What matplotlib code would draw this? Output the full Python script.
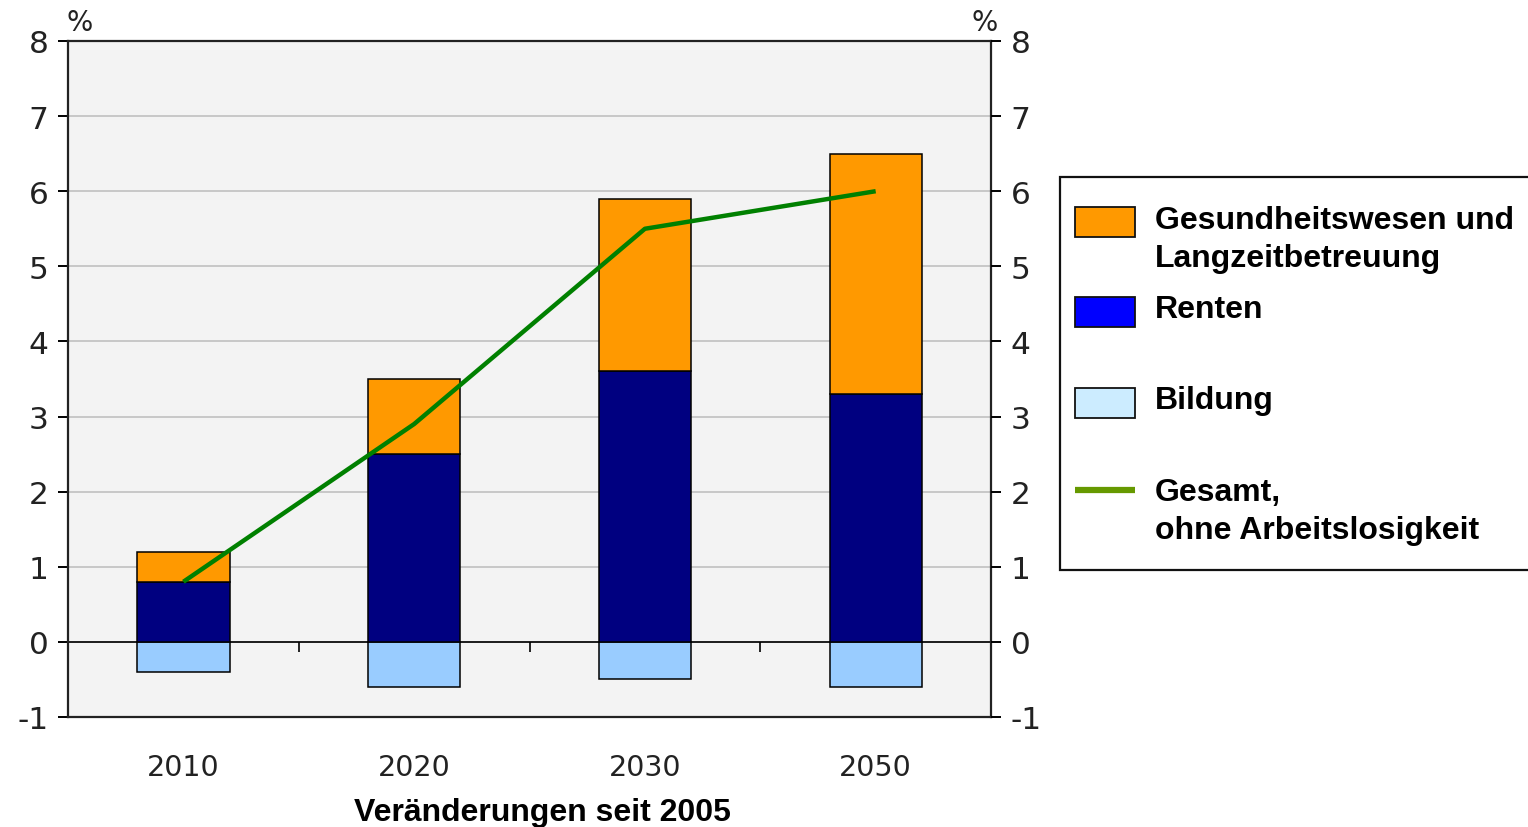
import numpy as np
import matplotlib
matplotlib.use("Agg")
import matplotlib.pyplot as plt
from matplotlib.patches import Rectangle
from matplotlib.lines import Line2D

plt.rcParams["axes.unicode_minus"] = False

# Veränderungen der Ausgaben seit 2005, in % des BIP
years = ["2010", "2020", "2030", "2050"]
bildung = [-0.4, -0.6, -0.5, -0.6]
renten = [0.8, 2.5, 3.6, 3.3]
gesundheit = [0.4, 1.0, 2.3, 3.2]
gesamt = [0.8, 2.9, 5.5, 6.0]

legend_labels = ["Gesundheitswesen und\nLangzeitbetreuung", "Renten", "Bildung",
                 "Gesamt,\nohne Arbeitslosigkeit"]

c_orange = "#FF9900"
c_navy = "#000080"
c_ltblue = "#99CCFF"
c_green = "#008000"

fig = plt.figure(figsize=(15.28, 8.28), dpi=100)
ax = fig.add_axes([0.0445, 0.1329, 0.6041, 0.8164])
ax.set_facecolor("#f3f3f3")

x = np.arange(len(years))
w = 0.4
bar_kw = dict(width=w, edgecolor="black", linewidth=1.1, zorder=3)
ax.bar(x, bildung, color=c_ltblue, **bar_kw)
ax.bar(x, renten, color=c_navy, **bar_kw)
ax.bar(x, gesundheit, bottom=renten, color=c_orange, **bar_kw)
ax.plot(x, gesamt, color=c_green, linewidth=3.2, zorder=4, solid_capstyle="butt")

ax.set_xlim(-0.5, len(years) - 0.5)
ax.set_ylim(-1, 8)
ax.set_yticks(range(-1, 9))
ax.grid(axis="y", color="#c0c0c0", linewidth=1.2, zorder=0)
ax.set_axisbelow(True)

# Nulllinie mit Kategorietrennern
ax.axhline(0, color="black", linewidth=1.2, zorder=2)
ax.vlines(x[:-1] + 0.5, -0.13, 0, color="black", linewidth=1.2, zorder=2)

for s in ax.spines.values():
    s.set_linewidth(1.6)
    s.set_color("#222222")

ax.set_xticks(x)
ax.set_xticklabels(years)
ax.tick_params(axis="x", length=0, pad=26, labelsize=20.5, labelcolor="#222222")
ax.tick_params(axis="y", length=7, width=1.4, pad=7, labelsize=22.5, labelcolor="#222222")

ax2 = ax.twinx()
ax2.set_ylim(ax.get_ylim())
ax2.set_yticks(range(-1, 9))
ax2.tick_params(axis="y", length=7, width=1.4, pad=7, labelsize=22.5, labelcolor="#222222")
for s in ax2.spines.values():
    s.set_visible(False)

fig.text(80 / 1528, 1 - 23 / 828, "%", fontsize=20, color="#222222", ha="center", va="center")
fig.text(985 / 1528, 1 - 23 / 828, "%", fontsize=20, color="#222222", ha="center", va="center")
fig.text(542 / 1528, 1 - 813 / 828, "Veränderungen seit 2005", fontsize=23,
         fontweight="bold", family="Liberation Sans", ha="center", va="center")

# Legende als eigener Kasten rechts
W, H = 1528, 828
fig.patches.append(Rectangle((1060 / W, 1 - 571 / H), 480 / W, 393 / H,
                             transform=fig.transFigure, facecolor="white",
                             edgecolor="#111111", linewidth=1.6))
entry_y = [223, 313, 404, 491]
text_y = [240, 310, 401, 512]
handles = [c_orange, "#0000FF", "#CCECFF", None]
for ey, ty, col, lab in zip(entry_y, text_y, handles, legend_labels):
    if col is not None:
        fig.patches.append(Rectangle((1075 / W, 1 - (ey + 15) / H), 60 / W, 30 / H,
                                     transform=fig.transFigure, facecolor=col,
                                     edgecolor="#111111", linewidth=1.3))
    else:
        fig.lines.append(Line2D([1075 / W, 1135 / W], [1 - ey / H, 1 - ey / H],
                                transform=fig.transFigure, color="#669900",
                                linewidth=4.5, solid_capstyle="butt"))
    fig.text(1155 / W, 1 - ty / H, lab, fontsize=23, fontweight="bold",
             family="Liberation Sans", ha="left", va="center", linespacing=1.35)

fig.savefig("out.png", dpi=100, facecolor="white")
